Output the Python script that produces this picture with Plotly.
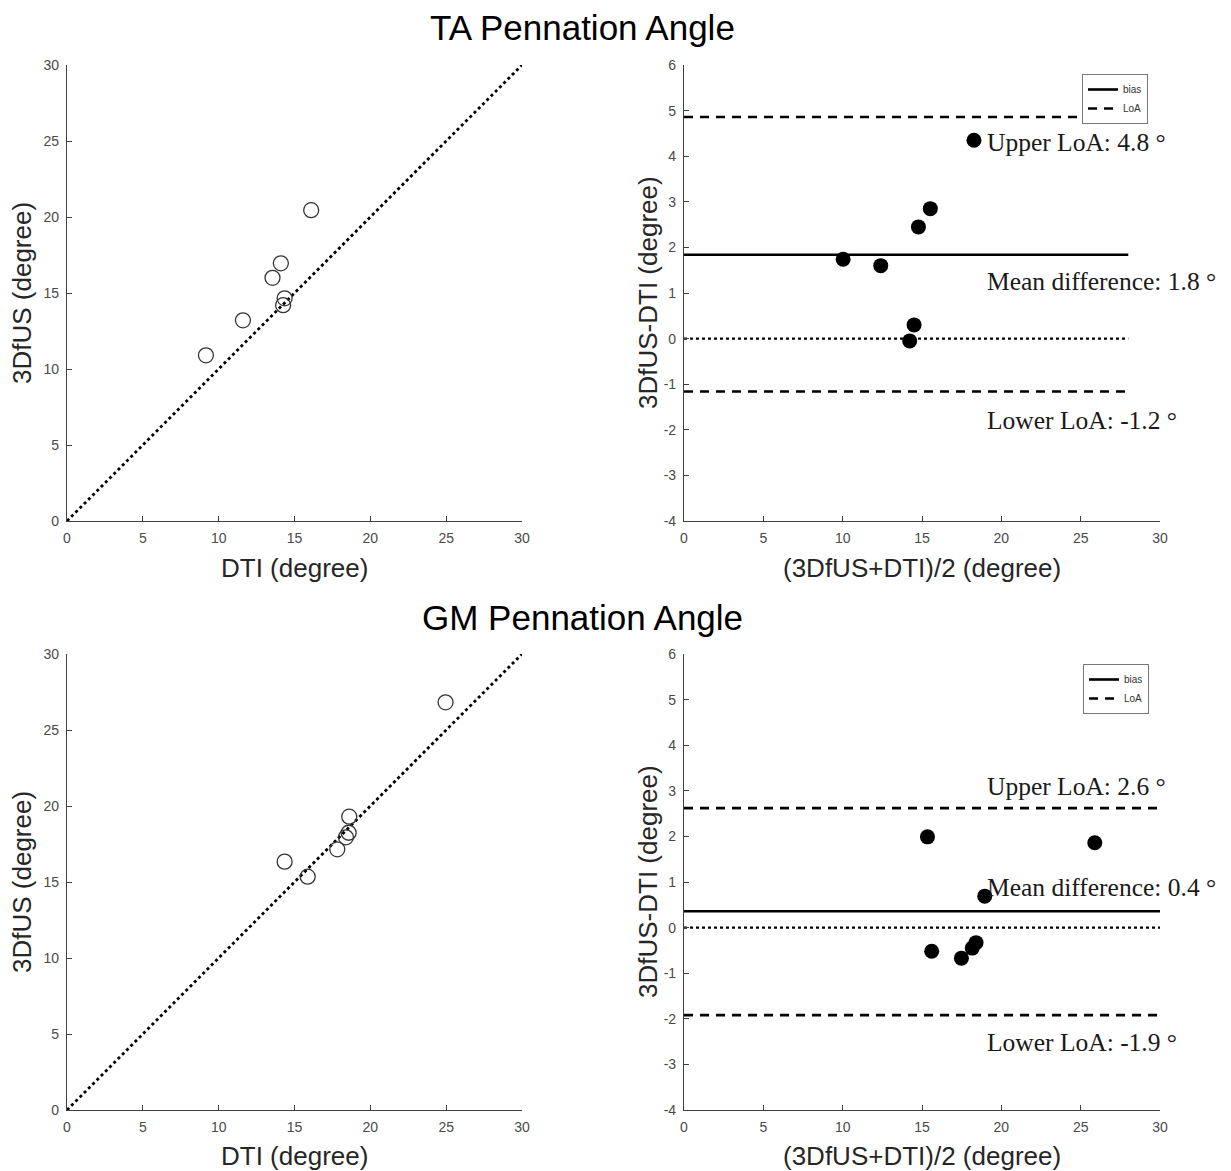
import plotly.graph_objects as go

# ---------------- data ----------------
ta_dti = [9.16, 11.6, 13.55, 14.1, 14.35, 14.25, 16.1]
ta_3dfus = [10.9, 13.2, 16.0, 16.95, 14.65, 14.2, 20.45]
gm_dti = [14.35, 15.87, 17.82, 18.39, 18.57, 18.61, 24.96]
gm_3dfus = [16.34, 15.35, 17.15, 17.94, 18.24, 19.3, 26.82]

ta_bias = 1.84
ta_loa = [4.86, -1.16]
gm_bias = 0.36
gm_loa = [2.62, -1.92]

ta_line_x = [0, 28]
gm_line_x = [0, 30]
identity_xy = [0, 30]

ta_labels = ["Upper LoA: 4.8 °", "Mean difference: 1.8 °", "Lower LoA: -1.2 °"]
gm_labels = ["Upper LoA: 2.6 °", "Mean difference: 0.4 °", "Lower LoA: -1.9 °"]

xy_ticks = [0, 5, 10, 15, 20, 25, 30]
diff_ticks = [-4, -3, -2, -1, 0, 1, 2, 3, 4, 5, 6]

# Bland-Altman coordinates
ta_mean = [(a + b) / 2 for a, b in zip(ta_3dfus, ta_dti)]
ta_diff = [a - b for a, b in zip(ta_3dfus, ta_dti)]
gm_mean = [(a + b) / 2 for a, b in zip(gm_3dfus, gm_dti)]
gm_diff = [a - b for a, b in zip(gm_3dfus, gm_dti)]

# page body has an 8px default margin: figure is drawn 8px in from the window edge
OFF = 8
W, H = 1231 - OFF, 1171 - OFF
SANS = "Liberation Sans, Arial, Helvetica, sans-serif"
SERIF = "Liberation Serif, Times New Roman, serif"
AX = "#404040"

def fx(p):  # window pixel x -> paper fraction
    return (p - OFF) / W

def fy(p):  # window pixel y -> paper fraction
    return 1 - (p - OFF) / H

fig = go.Figure()

def scatter_panel(xa, ya, dti, us):
    fig.add_trace(go.Scatter(x=identity_xy, y=identity_xy, mode="lines",
                             line=dict(color="black", width=2.8, dash="dot"),
                             xaxis=xa, yaxis=ya, showlegend=False, hoverinfo="skip"))
    fig.add_trace(go.Scatter(x=dti, y=us, mode="markers",
                             marker=dict(symbol="circle-open", size=15,
                                         color="#333333", line=dict(width=1.3)),
                             xaxis=xa, yaxis=ya, showlegend=False))

def ba_panel(xa, ya, mean, diff, bias, loa, line_x, legend):
    fig.add_trace(go.Scatter(x=mean, y=diff, mode="markers",
                             marker=dict(symbol="circle", size=15, color="black"),
                             xaxis=xa, yaxis=ya, showlegend=False))
    fig.add_trace(go.Scatter(x=line_x, y=[bias, bias], mode="lines", name="bias",
                             line=dict(color="black", width=2.6),
                             xaxis=xa, yaxis=ya, legend=legend, showlegend=True))
    for i, v in enumerate(loa):
        fig.add_trace(go.Scatter(x=line_x, y=[v, v], mode="lines", name="LoA",
                                 line=dict(color="black", width=2.6, dash="9px,7px"),
                                 xaxis=xa, yaxis=ya, legend=legend,
                                 showlegend=(i == 0)))
    fig.add_trace(go.Scatter(x=line_x, y=[0, 0], mode="lines",
                             line=dict(color="black", width=2.4, dash="dot"),
                             xaxis=xa, yaxis=ya, showlegend=False, hoverinfo="skip"))

scatter_panel("x", "y", ta_dti, ta_3dfus)
ba_panel("x2", "y2", ta_mean, ta_diff, ta_bias, ta_loa, ta_line_x, "legend")
scatter_panel("x3", "y3", gm_dti, gm_3dfus)
ba_panel("x4", "y4", gm_mean, gm_diff, gm_bias, gm_loa, gm_line_x, "legend2")

def axis(domain, rng, ticks, anchor):
    return dict(domain=domain, range=rng, tickvals=ticks,
                ticktext=[str(t) for t in ticks], anchor=anchor,
                automargin=False,
                showgrid=False, zeroline=False, showline=True, linecolor=AX, linewidth=1.2,
                ticks="inside", ticklen=5, tickcolor=AX, tickwidth=1,
                ticklabelstandoff=4,
                tickfont=dict(family=SANS, size=14, color="#4a4a4a"),
                mirror=False, fixedrange=True)

xl = [fx(67), fx(522)]
xr = [fx(684), fx(1160)]
yt = [fy(521), fy(65)]
yb = [fy(1110), fy(654)]

fig.update_layout(
    xaxis=axis(xl, [0, 30], xy_ticks, "y"),
    yaxis=axis(yt, [0, 30], xy_ticks, "x"),
    xaxis2=axis(xr, [0, 30], xy_ticks, "y2"),
    yaxis2=axis(yt, [-4, 6], diff_ticks, "x2"),
    xaxis3=axis(xl, [0, 30], xy_ticks, "y3"),
    yaxis3=axis(yb, [0, 30], xy_ticks, "x3"),
    xaxis4=axis(xr, [0, 30], xy_ticks, "y4"),
    yaxis4=axis(yb, [-4, 6], diff_ticks, "x4"),
)

legend_style = dict(xanchor="right", yanchor="top", bgcolor="white",
                    bordercolor="#777777", borderwidth=1,
                    font=dict(family=SANS, size=10, color="#333333"),
                    tracegroupgap=0, itemwidth=30)
fig.update_layout(
    legend=dict(x=fx(1148), y=fy(74), **legend_style),
    legend2=dict(x=fx(1149), y=fy(664), **legend_style),
)

def paper_text(txt, px, py, size, angle=0, color="#262626", family=SANS):
    return dict(text=txt, x=fx(px), y=fy(py), xref="paper", yref="paper",
                showarrow=False, font=dict(family=family, size=size, color=color),
                xanchor="center", yanchor="middle", textangle=angle)

annotations = [
    paper_text("TA Pennation Angle", 582, 28, 35, color="black"),
    paper_text("GM Pennation Angle", 582, 617, 35, color="black"),
    # axis titles
    paper_text("DTI (degree)", 294.5, 568, 26),
    paper_text("(3DfUS+DTI)/2 (degree)", 922, 568, 26),
    paper_text("DTI (degree)", 294.5, 1156, 26),
    paper_text("(3DfUS+DTI)/2 (degree)", 922, 1156, 26),
    paper_text("3DfUS (degree)", 22, 293, 26, angle=-90),
    paper_text("3DfUS-DTI (degree)", 648, 293, 26, angle=-90),
    paper_text("3DfUS (degree)", 22, 882, 26, angle=-90),
    paper_text("3DfUS-DTI (degree)", 648, 882, 26, angle=-90),
]
ta_label_y = [4.29, 1.25, -1.79]
gm_label_y = [3.1, 0.89, -2.51]
for txt, yy in zip(ta_labels, ta_label_y):
    annotations.append(dict(text=txt, x=18.95, y=yy, xref="x2", yref="y2", showarrow=False,
                            xanchor="left", yanchor="middle",
                            font=dict(family=SERIF, size=25.5, color="#1a1a1a")))
for txt, yy in zip(gm_labels, gm_label_y):
    annotations.append(dict(text=txt, x=18.95, y=yy, xref="x4", yref="y4", showarrow=False,
                            xanchor="left", yanchor="middle",
                            font=dict(family=SERIF, size=25.5, color="#1a1a1a")))

fig.update_layout(
    width=W, height=H, autosize=False,
    margin=dict(l=0, r=0, t=0, b=0),
    paper_bgcolor="white", plot_bgcolor="white",
    annotations=annotations,
)

fig.write_html("out.html")
